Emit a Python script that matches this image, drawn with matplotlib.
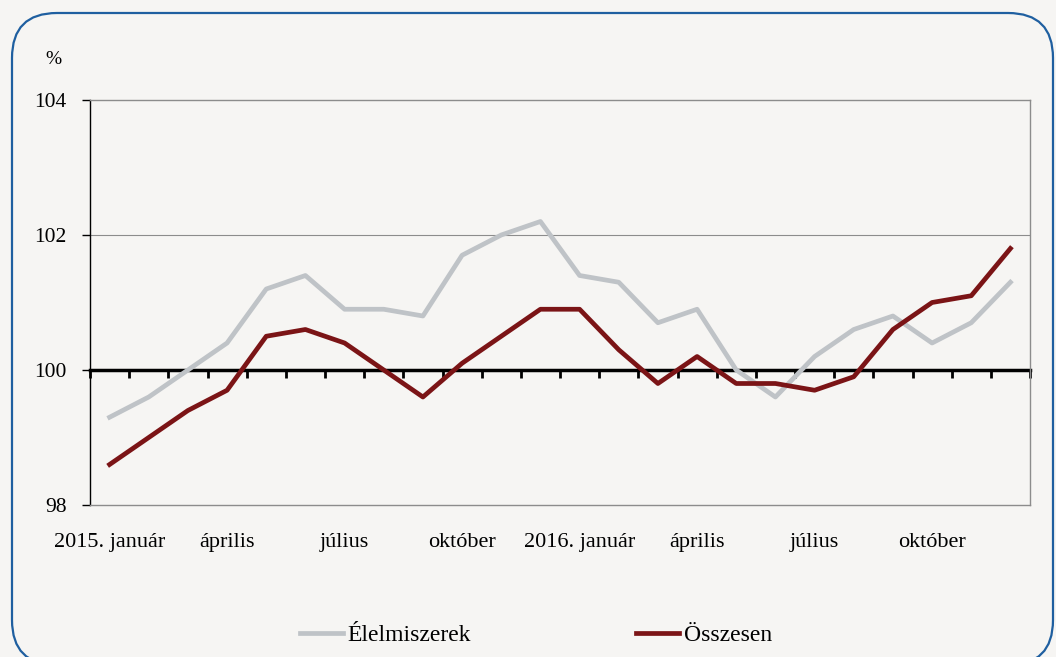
import matplotlib
matplotlib.use('Agg')
import matplotlib.pyplot as plt
import numpy as np
from matplotlib.patches import FancyBboxPatch

plt.rcParams['font.family'] = ['Liberation Serif', 'DejaVu Serif']

# havi adatok, 2015. január - 2016. december
elelmiszerek = [99.3, 99.6, 100.0, 100.4, 101.2, 101.4, 100.9, 100.9, 100.8, 101.7, 102.0, 102.2,
                101.4, 101.3, 100.7, 100.9, 100.0, 99.6, 100.2, 100.6, 100.8, 100.4, 100.7, 101.3]
osszesen = [98.6, 99.0, 99.4, 99.7, 100.5, 100.6, 100.4, 100.0, 99.6, 100.1, 100.5, 100.9,
            100.9, 100.3, 99.8, 100.2, 99.8, 99.8, 99.7, 99.9, 100.6, 101.0, 101.1, 101.8]
tick_labels = ['2015. január', 'április', 'július', 'október',
               '2016. január', 'április', 'július', 'október']
y_ticks = [98, 100, 102, 104]

bg = '#f6f5f3'
gray_col = '#bfc3c7'
red_col = '#7b1416'

fig = plt.figure(figsize=(10.56, 6.57), dpi=100, facecolor=bg)

# keret (pixel koordinátákban, alulról mérve)
bax = fig.add_axes([0, 0, 1, 1])
bax.set_xlim(0, 1056)
bax.set_ylim(0, 657)
bax.axis('off')
frame = FancyBboxPatch((12, -8), 1041, 652, boxstyle='round,pad=0,rounding_size=45',
                       facecolor='none', edgecolor='#1f5fa0', linewidth=1.6, clip_on=False)
bax.add_patch(frame)

ax = fig.add_axes([90 / 1056, 1 - 505 / 657, 940 / 1056, 405 / 657])
ax.set_facecolor(bg)
x = np.arange(len(elelmiszerek))

ax.axhline(102, color='#8c8c8c', linewidth=0.8, zorder=1)
ax.plot(x, elelmiszerek, color=gray_col, linewidth=3.4, label='Élelmiszerek', zorder=3)
ax.plot(x, osszesen, color=red_col, linewidth=3.4, label='Összesen', zorder=4)

ax.set_xlim(-0.5, len(x) - 0.5)
ax.set_ylim(98, 104)
ax.set_yticks(y_ticks)
ax.set_yticklabels([str(v) for v in y_ticks], fontsize=15.5)
ax.tick_params(axis='y', length=6, width=1, color='black', pad=11)
ax.set_xticks(x[::3])
ax.set_xticklabels(tick_labels, fontsize=16)
ax.tick_params(axis='x', length=0, pad=20)

for s in ['top', 'right', 'bottom']:
    ax.spines[s].set_color('#8c8c8c')
    ax.spines[s].set_linewidth(1)
ax.spines['left'].set_color('black')
ax.spines['left'].set_linewidth(1)

# 100-as vonal hónaphatár-jelekkel
sec = ax.secondary_xaxis(2 / 6)
sec.set_xticks(np.arange(-0.5, len(x), 1))
sec.tick_params(direction='out', length=6, width=2, labelbottom=False, color='black')
sec.spines['bottom'].set_linewidth(2.5)
sec.spines['bottom'].set_zorder(2)

fig.text(53 / 1056, 1 - 60 / 657, '%', fontsize=14, ha='center', va='center')

fig.legend(loc='center', bbox_to_anchor=(536 / 1056, 1 - 635 / 657), ncol=2, frameon=False,
           fontsize=17, handlelength=1.8, handletextpad=0.2, columnspacing=7)

fig.savefig('out.png', dpi=100, facecolor=bg)
